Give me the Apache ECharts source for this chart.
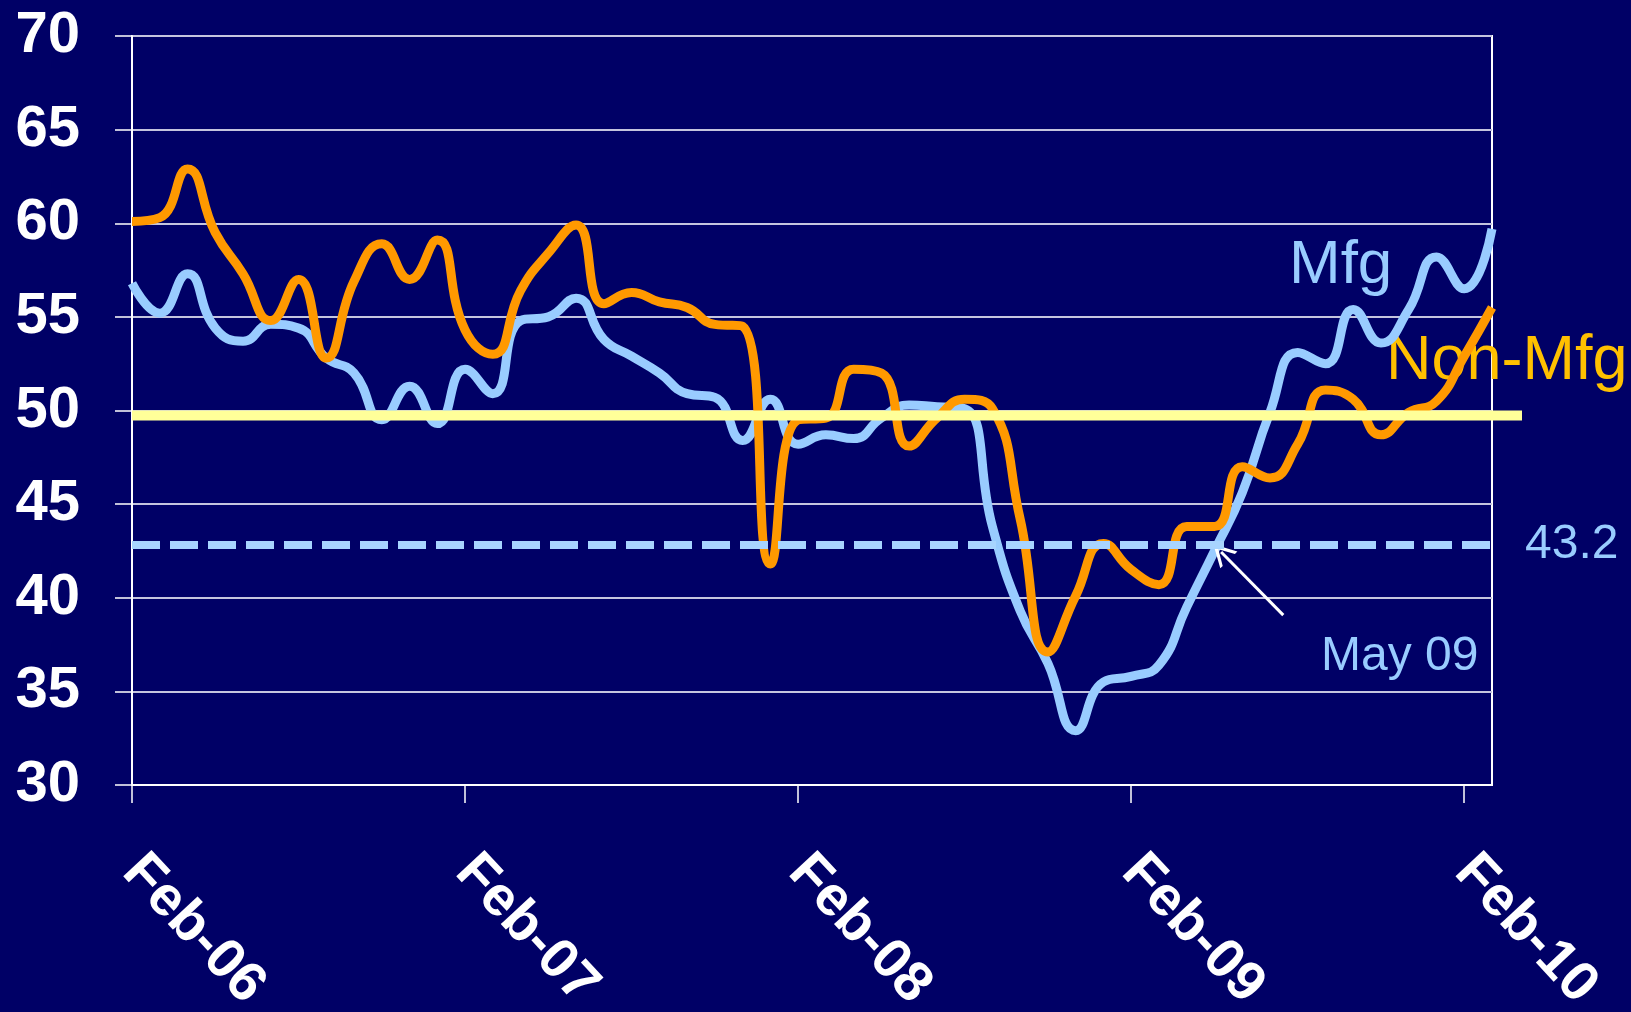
<!DOCTYPE html>
<html>
<head>
<meta charset="utf-8">
<script src="https://cdn.jsdelivr.net/npm/echarts@6/dist/echarts.min.js"></script>
<style>
html,body{margin:0;padding:0;background:#000066;}
#chart{width:1631px;height:1012px;}
</style>
</head>
<body>
<div id="chart"></div>
<script>
// Months (Feb-06 .. Mar-10)
const months = ['Feb-06','Mar-06','Apr-06','May-06','Jun-06','Jul-06','Aug-06','Sep-06','Oct-06','Nov-06','Dec-06','Jan-07',
  'Feb-07','Mar-07','Apr-07','May-07','Jun-07','Jul-07','Aug-07','Sep-07','Oct-07','Nov-07','Dec-07','Jan-08',
  'Feb-08','Mar-08','Apr-08','May-08','Jun-08','Jul-08','Aug-08','Sep-08','Oct-08','Nov-08','Dec-08','Jan-09',
  'Feb-09','Mar-09','Apr-09','May-09','Jun-09','Jul-09','Aug-09','Sep-09','Oct-09','Nov-09','Dec-09','Jan-10',
  'Feb-10','Mar-10'];
const mfg = [56.8,55.2,57.3,54.4,53.7,54.6,54.4,52.8,52.0,49.5,51.3,49.3,
  52.2,50.9,54.8,55.0,56.0,53.8,52.9,52.0,50.9,50.7,48.4,50.6,
  48.2,48.7,48.5,49.6,50.3,50.2,50.1,43.8,39.3,36.5,32.9,35.5,
  35.8,36.4,39.5,42.5,45.6,49.9,53.1,52.5,55.4,53.6,55.4,58.2,
  56.5,59.7];
const nonMfg = [60.1,60.3,62.9,59.5,57.3,54.8,57.0,52.8,56.9,58.9,57.0,59.1,
  54.3,53.0,56.4,58.4,59.9,55.7,56.3,55.8,55.5,54.6,54.5,41.8,
  49.5,49.6,52.2,52.0,48.1,49.6,50.6,50.1,44.2,37.1,40.1,42.9,
  41.5,40.7,43.8,43.8,47.0,46.4,48.2,51.1,50.6,48.7,49.9,50.5,
  52.9,55.5];
const xTickLabels = ['Feb-06','Feb-07','Feb-08','Feb-09','Feb-10'];
const xTickIndex = [0,12,24,36,48];
const yMin = 30, yMax = 70, yStep = 5;
const level50Line = 49.73;      // solid yellow reference line
const mayLevelLine = 42.85;     // dashed line (labelled 43.2)
const mayLevelText = '43.2';
const arrowFrom = [41.48, 39.07];
const arrowTo = [39.24, 42.44];

const FONT = '"Liberation Sans", Arial, Helvetica, sans-serif';
const mfgPairs = mfg.map((v,i)=>[i,v]);
const nonPairs = nonMfg.map((v,i)=>[i,v]);

const chart = echarts.init(document.getElementById('chart'), null, {renderer:'canvas'});
const option = {
  backgroundColor: '#000066',
  animation: false,
  grid: [
    {left:132, right:139, top:36, bottom:227, show:true, borderColor:'#ffffff', borderWidth:2,
     backgroundColor:'transparent', containLabel:false, outerBoundsMode:'none'},
    {left:132, right:109, top:36, bottom:227, containLabel:false, outerBoundsMode:'none'}
  ],
  xAxis: [
    {
      type:'value', gridIndex:0, min:0, max:months.length-1,
      splitLine:{show:false},
      axisLine:{show:true, lineStyle:{color:'#ffffff', width:2}},
      axisTick:{show:true, length:18, lineStyle:{color:'#ffffff', width:1.5}, customValues:xTickIndex},
      axisLabel:{
        customValues:xTickIndex,
        formatter:(v)=> xTickLabels[xTickIndex.indexOf(Math.round(v))] || '',
        rotate:-47, margin:78, color:'#ffffff', fontSize:56, fontWeight:'bold', fontFamily:FONT,
        hideOverlap:false
      }
    },
    {type:'value', gridIndex:1, min:0, max:1, show:false}
  ],
  yAxis: [
    {
      type:'value', gridIndex:0, min:yMin, max:yMax, interval:yStep,
      axisLine:{show:true, lineStyle:{color:'#ffffff', width:2}},
      axisTick:{show:true, length:17, lineStyle:{color:'#ffffff', width:1.5}},
      splitLine:{show:true, lineStyle:{color:'#c4c4de', width:2}},
      axisLabel:{color:'#ffffff', fontSize:58, fontWeight:'bold', fontFamily:FONT, margin:52}
    },
    {type:'value', gridIndex:1, min:yMin, max:yMax, show:false}
  ],
  graphic: [
    {type:'text', left:1289, top:235, style:{text:'Mfg', fill:'#99ccff', font:'62px '+FONT}},
    {type:'text', left:1386, top:330, style:{text:'Non-Mfg', fill:'#ffc000', font:'63px '+FONT}},
    {type:'text', left:1321, top:633, style:{text:'May 09', fill:'#99ccff', font:'48px '+FONT}}
  ],
  series: [
    {
      name:'Mfg', type:'line', xAxisIndex:0, yAxisIndex:0, data:mfgPairs,
      smooth:0.5, symbol:'none', lineStyle:{color:'#99ccff', width:9}, z:2,
      markLine:{
        silent:true, animation:false,
        data:[
          [
            {coord:arrowFrom, symbol:'none', lineStyle:{color:'#ffffff', width:3, type:'solid'}, label:{show:false}},
            {coord:arrowTo, symbol:'path://M0,14 L7,0 L14,14 L12,14 L7,4.5 L2,14 Z', symbolSize:[24,22]}
          ]
        ]
      }
    },
    {
      name:'Non-Mfg', type:'line', xAxisIndex:0, yAxisIndex:0, data:nonPairs,
      smooth:0.5, symbol:'none', lineStyle:{color:'#ff9900', width:9}, z:2,
      markLine:{
        silent:true, animation:false, symbol:['none','none'],
        data:[
          {yAxis:mayLevelLine, lineStyle:{color:'#a8d4ff', width:8, type:[28,10]},
           label:{show:true, position:'end', distance:33, formatter:mayLevelText, color:'#99ccff', fontSize:48, fontFamily:FONT}}
        ]
      }
    },
    {
      name:'ref50', type:'line', xAxisIndex:1, yAxisIndex:1,
      data:[[0,level50Line],[1,level50Line]], symbol:'none',
      lineStyle:{color:'#ffff99', width:10}, z:3
    }
  ]
};
chart.setOption(option);
</script>
</body>
</html>
